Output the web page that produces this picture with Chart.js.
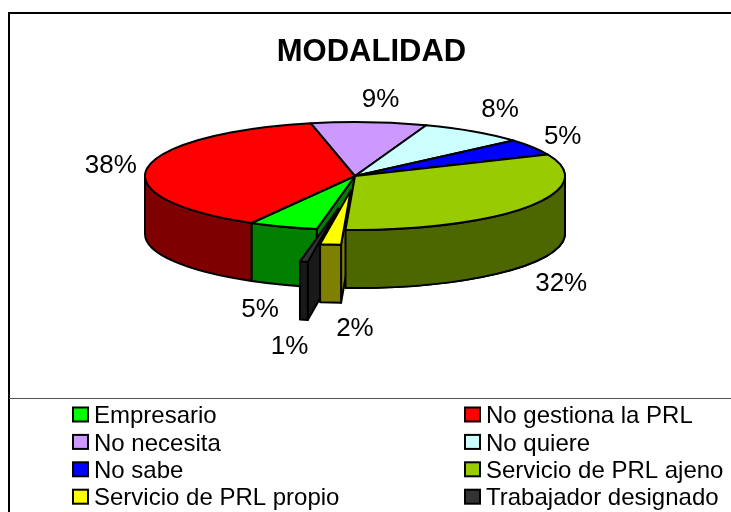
<!DOCTYPE html>
<html><head><meta charset="utf-8">
<style>html,body{margin:0;padding:0;background:#fff;overflow:hidden}canvas{display:block}</style>
<script src="https://cdn.jsdelivr.net/npm/chart.js@4"></script>
</head><body>
<div style="width:731px;height:512px"><canvas id="c" width="731" height="512"></canvas></div>
<script>
const titleText = "MODALIDAD";
const categories = ["Empresario","No gestiona la PRL","No necesita","No quiere","No sabe","Servicio de PRL ajeno","Servicio de PRL propio","Trabajador designado"];
const values = [5.3,38.49,8.9,8.1,4.9,32.3,1.6,0.6];
const colors = ["#00FF00","#FF0000","#CC99FF","#CCFFFF","#0000FF","#99CC00","#FFFF00","#333333"];
const explode = [0,0,0,0,0,0,58,128];
const labelNudge = [[-10,3],[1,2],[9,2],[5,-2],[-2,2],[2,6],[28,2],[-8,3]];

const SQUASH = 54/210, DEPTH = 58, EXPLODE_X = 0.8, FONT = '"Liberation Sans", Arial, sans-serif';
function shade(hex){
  const n = parseInt(hex.slice(1),16);
  const c = s => Math.floor(((n>>s)&255)/2);
  return `rgb(${c(16)},${c(8)},${c(0)})`;
}
function geom(arc, i){
  const p = arc.getProps(['x','y','startAngle','endAngle','outerRadius'], true);
  const mid = (p.startAngle+p.endAngle)/2;
  const off = arc.options.offset || 0;
  return {i, a:p.startAngle, b:p.endAngle, r:p.outerRadius, mid,
    cx:p.x+off*EXPLODE_X*Math.cos(mid), cy:p.y+off*Math.sin(mid)*SQUASH};
}
function paint(ctx, fill){
  ctx.fillStyle = fill; ctx.fill();
  ctx.strokeStyle = '#000'; ctx.lineWidth = 2; ctx.lineJoin = 'round'; ctx.stroke();
}
function drawSides(ctx, g){
  // only the radial faces that look towards the viewer
  const faces = [];
  if (Math.cos(g.a) < 0) faces.push(g.a);
  if (Math.cos(g.b) > 0) faces.push(g.b);
  for (const ang of faces) {
    const x = g.cx+g.r*Math.cos(ang), y = g.cy+g.r*Math.sin(ang)*SQUASH;
    ctx.beginPath(); ctx.moveTo(g.cx,g.cy); ctx.lineTo(x,y); ctx.lineTo(x,y+DEPTH); ctx.lineTo(g.cx,g.cy+DEPTH); ctx.closePath();
    paint(ctx, shade(colors[g.i]));
  }
}
function drawWall(ctx, g){
  for (let k=-2;k<=2;k++){
    const lo = Math.max(g.a, k*2*Math.PI), hi = Math.min(g.b, k*2*Math.PI+Math.PI);
    if (lo<hi){
      ctx.beginPath();
      ctx.ellipse(g.cx,g.cy,g.r,g.r*SQUASH,0,lo,hi);
      ctx.ellipse(g.cx,g.cy+DEPTH,g.r,g.r*SQUASH,0,hi,lo,true);
      ctx.closePath();
      paint(ctx, shade(colors[g.i]));
    }
  }
}
function drawTop(ctx, g){
  ctx.beginPath(); ctx.moveTo(g.cx,g.cy);
  ctx.ellipse(g.cx,g.cy,g.r,g.r*SQUASH,0,g.a,g.b);
  ctx.closePath();
  paint(ctx, colors[g.i]);
}
const pie3d = {
  id:'pie3d',
  beforeDraw(chart){
    const ctx = chart.ctx;
    ctx.save();
    ctx.strokeStyle='#000'; ctx.lineWidth=2;
    ctx.beginPath(); ctx.moveTo(9,chart.height); ctx.lineTo(9,13); ctx.lineTo(chart.width,13); ctx.stroke();
    ctx.strokeStyle='#555'; ctx.lineWidth=1;
    ctx.beginPath(); ctx.moveTo(9,398.5); ctx.lineTo(chart.width,398.5); ctx.stroke();
    ctx.restore();
  },
  beforeDatasetDraw(chart){
    const ctx = chart.ctx;
    const gs = chart.getDatasetMeta(0).data.map((a,i)=>geom(a,i));
    const base = gs.filter(g=>!explode[g.i]);
    const ex = gs.filter(g=>explode[g.i]).reverse();
    const first = explode.findIndex(v=>v>0);
    const before = gs[first-1];
    const after = gs[(first+ex.length)%gs.length];
    ctx.save();
    drawSides(ctx,after);
    base.forEach(g=>drawWall(ctx,g));
    base.forEach(g=>drawTop(ctx,g));
    ex.forEach(g=>{ drawSides(ctx,g); drawWall(ctx,g); drawTop(ctx,g); });
    drawWall(ctx,before); drawTop(ctx,before);
    ctx.restore();
    return false;
  },
  afterDraw(chart){
    const ctx = chart.ctx;
    ctx.save();
    // title
    ctx.fillStyle='#000'; ctx.textAlign='center'; ctx.textBaseline='middle';
    ctx.font='bold 31px '+FONT;
    ctx.fillText(titleText, 371.5, 52);
    // data labels
    ctx.font='26px '+FONT;
    chart.getDatasetMeta(0).data.forEach((a,i)=>{
      const g = geom(a,i), c=Math.cos(g.mid), s=Math.sin(g.mid);
      const x = g.cx+g.r*c+38*c+labelNudge[i][0];
      const y = g.cy+g.r*s*SQUASH+(s>0?DEPTH:0)+24*s+labelNudge[i][1];
      ctx.fillText(Math.round(values[i])+'%', x, y);
    });
    // legend
    ctx.font='24px '+FONT; ctx.textAlign='left';
    categories.forEach((t,i)=>{
      const col=i%2, row=Math.floor(i/2);
      const y=414.5+row*27.4, x= col?465:73;
      ctx.fillStyle=colors[i]; ctx.strokeStyle='#000'; ctx.lineWidth=2;
      ctx.fillRect(x,y-7,15,14); ctx.strokeRect(x,y-7,15,14);
      ctx.fillStyle='#000';
      ctx.fillText(t, x+21, y+2);
    });
    ctx.restore();
  }
};
new Chart(document.getElementById('c'),{
  type:'pie',
  data:{labels:categories,datasets:[{data:values,backgroundColor:colors,borderColor:'#000',borderWidth:2,offset:explode}]},
  options:{
    responsive:false,animation:false,rotation:190.5,radius:210,
    layout:{padding:{left:0,right:21,top:0,bottom:160}},
    plugins:{legend:{display:false},title:{display:false},tooltip:{enabled:false}},
    events:[]
  },
  plugins:[pie3d]
});
</script>
</body></html>
